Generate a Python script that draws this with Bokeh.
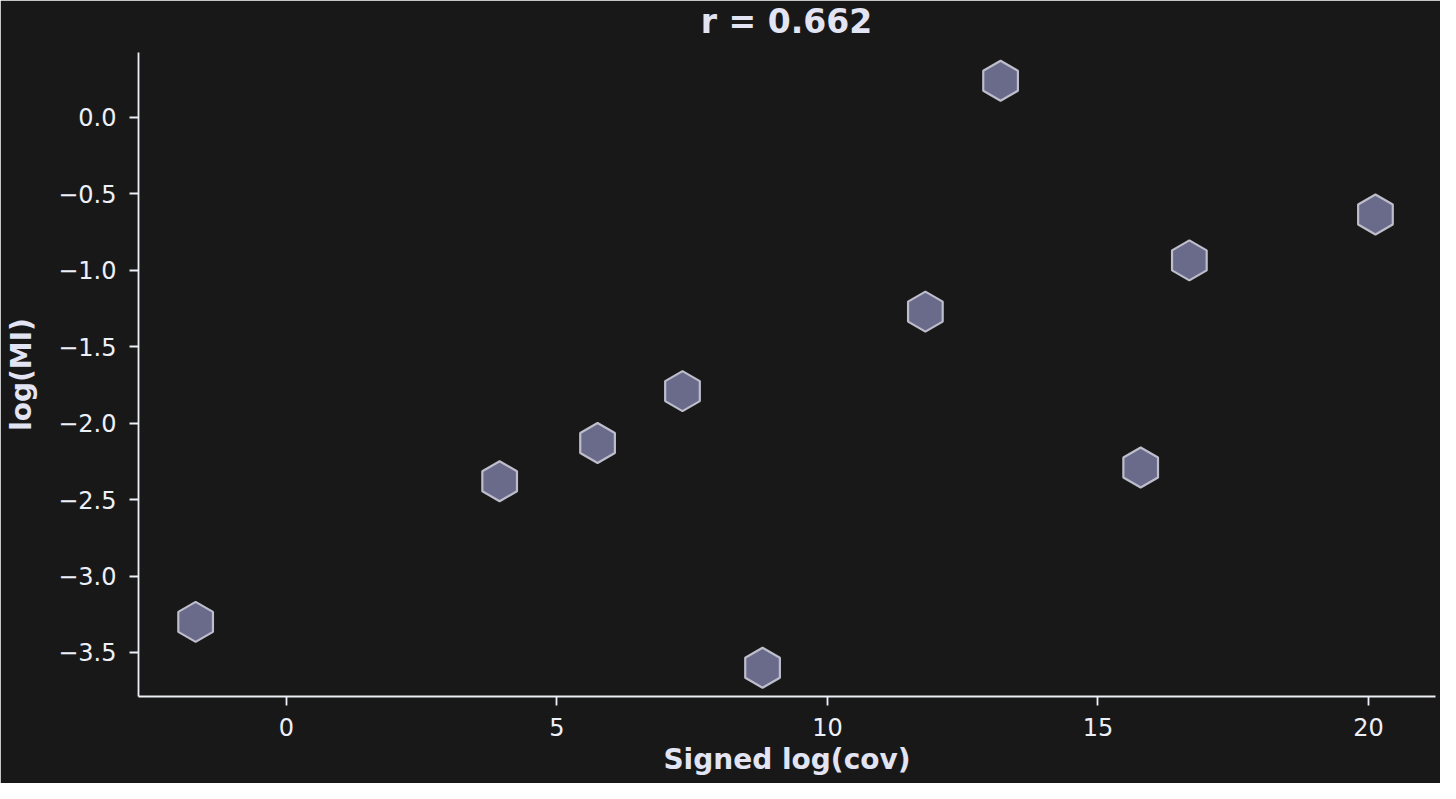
import math
from bokeh.plotting import figure
from bokeh.models import Range1d, SingleIntervalTicker, Label, ColumnDataSource
from bokeh.embed import file_html
from bokeh.resources import INLINE

signed_log_cov = [-1.68, 3.94, 5.75, 7.32, 8.80, 11.81, 13.20, 15.79, 16.69, 20.13]
log_mi = [-3.30, -2.38, -2.13, -1.79, -3.60, -1.27, 0.24, -2.29, -0.935, -0.635]
r_value = "0.662"

BG = "#181818"
TXT = "#eef0f8"
LAB = "#e2e4f4"
FONT = "DejaVu Sans"

src = ColumnDataSource(dict(x=signed_log_cov, y=log_mi))

p = figure(width=1440, height=783, output_backend="svg", toolbar_location=None,
           x_range=Range1d(-2.736, 21.24), y_range=Range1d(-3.788, 0.425),
           background_fill_color=BG, border_fill_color=BG,
           min_border_left=138, min_border_right=5, min_border_top=52, min_border_bottom=87)
p.outline_line_color = BG
p.outline_line_width = 3
p.grid.visible = False

p.scatter("x", "y", source=src, marker="hex", size=40, angle=math.pi / 6,
          fill_color="#6a6a8a", fill_alpha=1.0, line_color="#bdbdcc", line_width=2.2)

for ax in (p.xaxis[0], p.yaxis[0]):
    ax.axis_line_color = TXT
    ax.axis_line_width = 1.8
    ax.major_tick_line_color = TXT
    ax.major_tick_line_width = 1.8
    ax.major_tick_out = 9
    ax.major_tick_in = 0
    ax.minor_tick_line_color = None
    ax.major_label_text_color = TXT
    ax.major_label_text_font = FONT
    ax.major_label_text_font_size = "24px"
    ax.axis_label_text_color = LAB
    ax.axis_label_text_font = FONT
    ax.axis_label_text_font_style = "bold"
    ax.axis_label_text_font_size = "28px"

p.xaxis.ticker = SingleIntervalTicker(interval=5)
p.yaxis.ticker = SingleIntervalTicker(interval=0.5)
p.xaxis.axis_label = "Signed log(cov)"
p.yaxis.axis_label = "log(MI)"
p.yaxis.major_label_overrides = {v / 2: ("\u2212" if v < 0 else "") + f"{abs(v / 2):.1f}" for v in range(-8, 2)}
p.yaxis.major_label_standoff = 13
p.xaxis.major_label_standoff = 12
p.xaxis.axis_label_standoff = 4
p.yaxis.axis_label_standoff = 17

p.add_layout(Label(x=786, y=21, x_units="canvas", y_units="canvas", text="r = " + r_value,
                   text_font=FONT, text_font_style="bold", text_font_size="33px", text_color=LAB,
                   text_align="center", text_baseline="middle"), "above")

open("out.html", "w").write(file_html(p, INLINE))
